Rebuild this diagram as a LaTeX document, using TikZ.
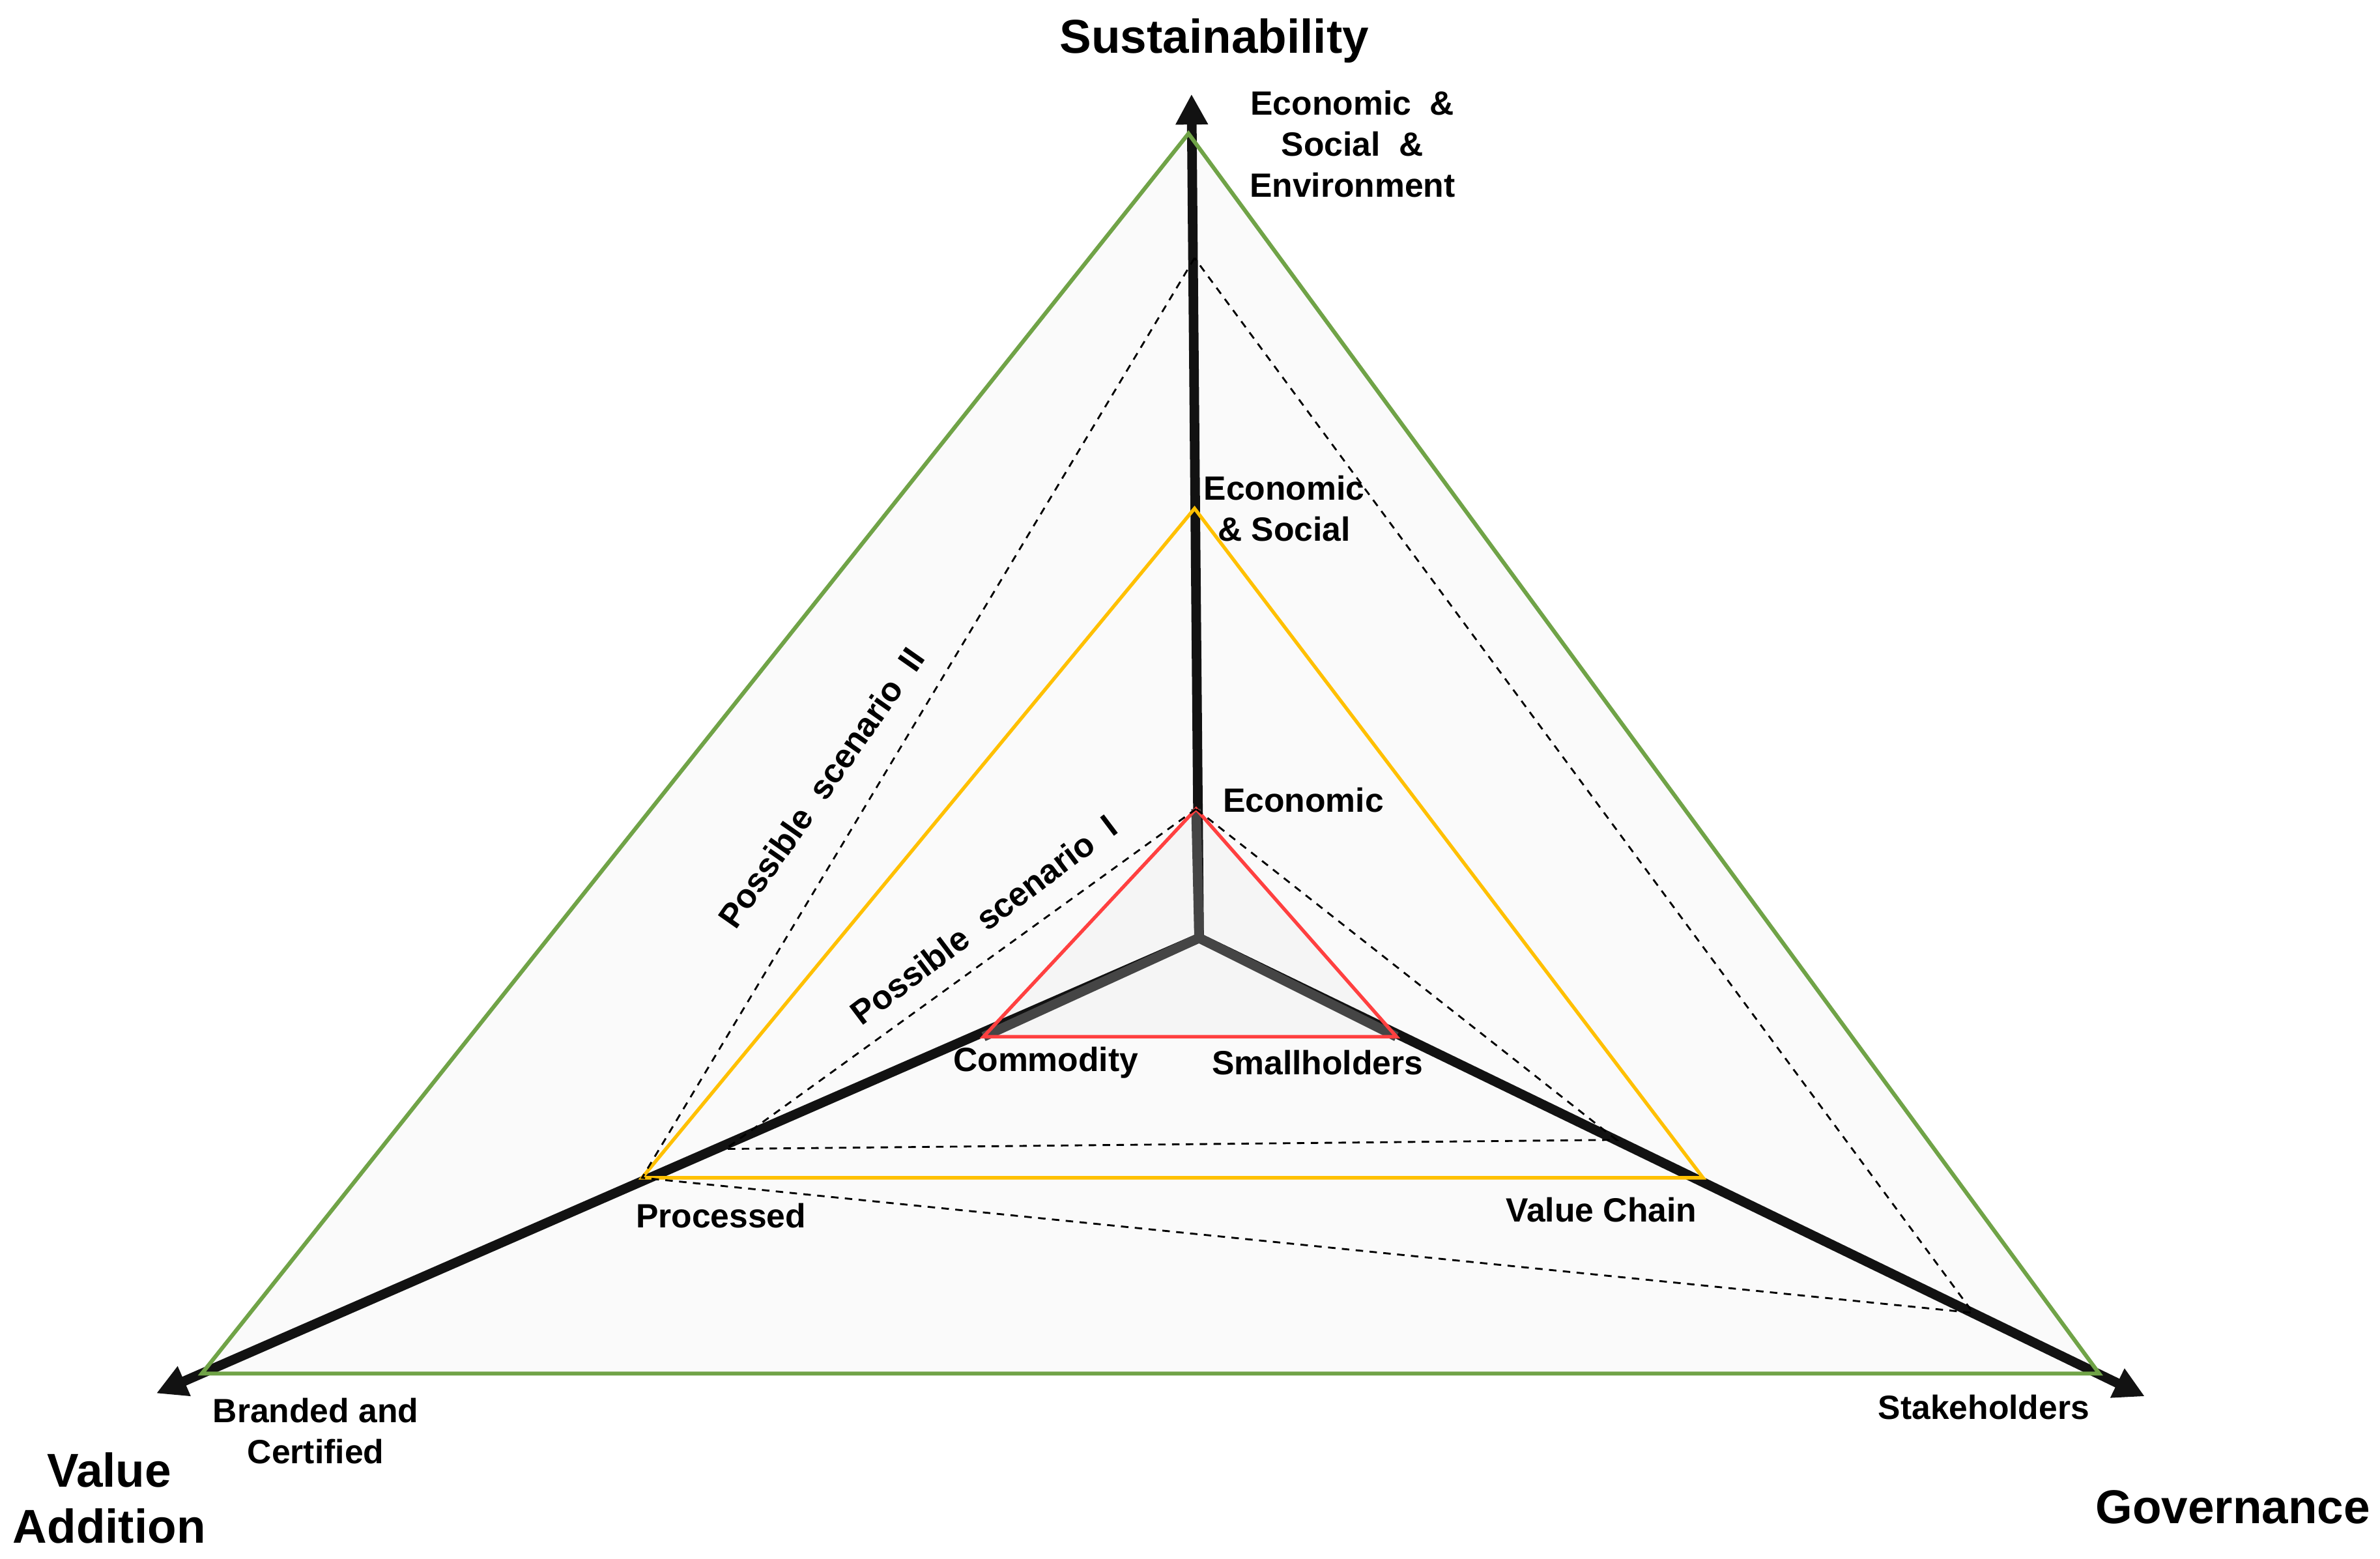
\documentclass[tikz,border=0pt]{standalone}
\usepackage{fontspec}
\setmainfont{Liberation Sans}
\usepackage{xcolor}
\usepackage{tikz}
\usetikzlibrary{arrows.meta, positioning}
\definecolor{outergreen}{RGB}{112,163,71}
\definecolor{midyellow}{RGB}{255,192,0}
\definecolor{innerred}{RGB}{255,64,64}
\tikzstyle{axisline} = [line width=1.8pt, black!93, -{Triangle[length=5.7pt,width=5.7pt]}]
\tikzstyle{innerline} = [line width=1.8pt, black!73]
\tikzstyle{outertri} = [draw=outergreen, line width=0.75pt]
\tikzstyle{midtri} = [draw=midyellow, line width=0.65pt]
\tikzstyle{innertri} = [draw=innerred, line width=0.65pt]
\tikzstyle{scenario} = [black, line width=0.35pt, dash pattern=on 1.4pt off 1.2pt]
\tikzstyle{axistitle} = [font=\fontsize{8.9}{10.5}\selectfont\bfseries, align=center, inner sep=0pt]
\tikzstyle{levellabel} = [font=\fontsize{6.3}{7.7}\selectfont\bfseries, align=center, inner sep=0pt]

\begin{document}
\begin{tikzpicture}[x=0.01cm, y=-0.01cm]
    \fill[white] (0,0) rectangle (1568,1027);
    \useasboundingbox (0,0) rectangle (1568,1027);

    % axes
    \coordinate (origin) at (790,618);
    \coordinate (susTip) at (785,62);
    \coordinate (valTip) at (103,918);
    \coordinate (govTip) at (1413,920);

    % levels on the three axes
    \coordinate (green1) at (783,88);
    \coordinate (green2) at (133,905);
    \coordinate (green3) at (1383,905);
    \coordinate (yellow1) at (787,335);
    \coordinate (yellow2) at (423,776);
    \coordinate (yellow3) at (1122,776);
    \coordinate (red1) at (788,533);
    \coordinate (red2) at (648,683);
    \coordinate (red3) at (920,683);

    % scenario corners
    \coordinate (scenA2) at (787,170);
    \coordinate (scenA3) at (1300,865);
    \coordinate (scenB2) at (478,757);
    \coordinate (scenB3) at (1065,751);

    \fill[black!2] (green1) -- (green2) -- (green3) -- cycle;
    \fill[black!4] (red1) -- (red2) -- (red3) -- cycle;

    \draw [axisline] (origin) -- (susTip);
    \draw [axisline] (origin) -- (valTip);
    \draw [axisline] (origin) -- (govTip);
    \draw [innerline] (origin) -- (red1);
    \draw [innerline] (origin) -- (red2);
    \draw [innerline] (origin) -- (red3);

    \draw [outertri] (green1) -- (green2) -- (green3) -- cycle;
    \draw [midtri] (yellow1) -- (yellow2) -- (yellow3) -- cycle;
    \draw [innertri] (red1) -- (red2) -- (red3) -- cycle;

    \draw [scenario] (scenA2) -- (yellow2) -- (scenA3) -- cycle;
    \draw [scenario] (red1) -- (scenB2) -- (scenB3) -- cycle;

    % axis titles
    \node (sus) [axistitle] at (800,27) {Sustainability};
    \node (val) [axistitle] at (72,987) {Value\\Addition};
    \node (gov) [axistitle] at (1471,993) {Governance};

    % level labels
    \node (susHigh) [levellabel] at (891,95) {Economic \ \&\\Social \ \&\\Environment};
    \node (susMid) [levellabel] at (846,335) {Economic\\\& Social};
    \node (susLow) [levellabel, anchor=west] at (805,527) {Economic};
    \node (valLow) [levellabel] at (689,700) {Commodity};
    \node (valMid) [levellabel] at (475,801) {Processed};
    \node (valHigh) [levellabel] at (208,943) {Branded and\\Certified};
    \node (govLow) [levellabel] at (868,700) {Smallholders};
    \node (govMid) [levellabel] at (1055,797) {Value Chain};
    \node (govHigh) [levellabel] at (1307,927) {Stakeholders};

    % scenarios
    \node (scenII) [levellabel, rotate=55] at (541,519) {Possible \ scenario \ II};
    \node (scenI) [levellabel, rotate=37] at (648,606) {Possible \ scenario \ I};
\end{tikzpicture}
\end{document}
